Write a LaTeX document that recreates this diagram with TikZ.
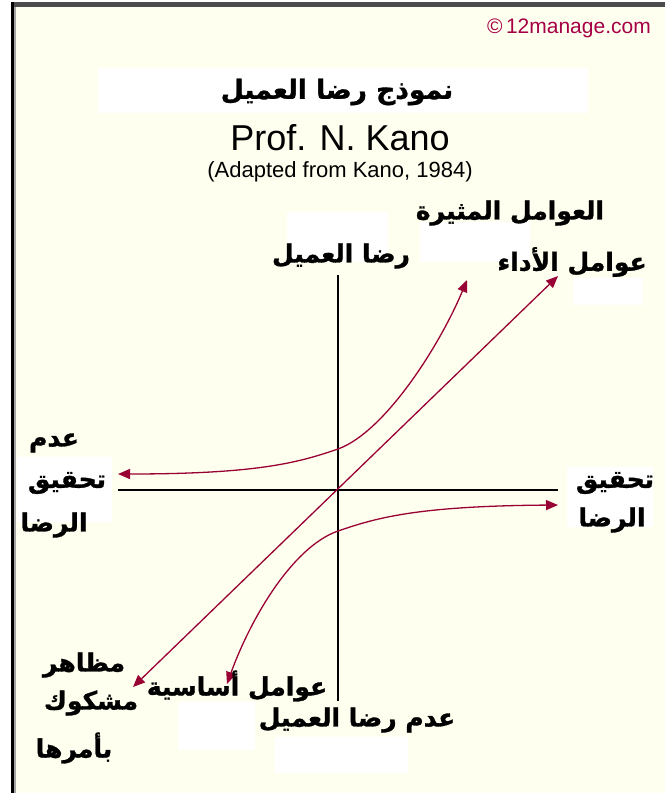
\documentclass[tikz,border=0pt]{standalone}
\usepackage{fontspec}
\setmainfont{Liberation Sans}
\newfontfamily\arabicfont[Script=Arabic, BoldFeatures={FakeBold=1.2}]{DejaVu Sans}
\TeXXeTstate=1
\usetikzlibrary{arrows.meta}
\definecolor{kanored}{RGB}{153,0,51}
\definecolor{copyred}{RGB}{165,0,70}
\definecolor{paper}{RGB}{255,255,240}
\newcommand{\artext}[1]{\beginR #1\endR}

\begin{document}
\begin{tikzpicture}[
    x=1pt, y=-1pt,
    arlabel/.style={inner sep=0pt, font=\arabicfont\bfseries\fontsize{25}{28}\selectfont},
    latlabel/.style={inner sep=0pt, font=\fontsize{21}{24}\selectfont},
    whitebox/.style={fill=white, draw=none},
    axis/.style={line width=1.3pt, color=black},
    curve/.style={{Triangle[length=12pt,width=10pt]}-{Triangle[length=12pt,width=10pt]}, line width=1.3pt, color=kanored}
]
    \useasboundingbox (0,0) rectangle (665,793);
    % page and frame
    \fill[paper] (11,2) rectangle (665,793);
    \fill[black!70] (11,2) rectangle (665,7);
    \fill[black] (11,2) rectangle (14,793);
    \fill[black!35] (14,7) rectangle (16,793);

    % white patches behind the labels
    \fill[whitebox] (98,68) rectangle (588,113);
    \fill[whitebox] (287,212) rectangle (388,262);
    \fill[whitebox] (420,222) rectangle (530,262);
    \fill[whitebox] (573,278) rectangle (643,305);
    \fill[whitebox] (17,457) rectangle (112,522);
    \fill[whitebox] (567,467) rectangle (653,527);
    \fill[whitebox] (178,702) rectangle (255,750);
    \fill[whitebox] (275,737) rectangle (408,773);

    % axes
    \coordinate (O) at (338,490);
    \coordinate (yT) at (338,275);
    \coordinate (yB) at (338,701);
    \coordinate (xL) at (118,490);
    \coordinate (xR) at (558,490);
    \draw[axis] (yT) -- (yB);
    \draw[axis] (xL) -- (xR);

    % curve end points
    \coordinate (perfU) at (558,276);
    \coordinate (perfL) at (133,687);
    \coordinate (excL) at (118,474);
    \coordinate (excM) at (338,449);
    \coordinate (excU) at (467,280);
    \coordinate (basR) at (558,505);
    \coordinate (basM) at (338,531);
    \coordinate (basL) at (227,684);

    \draw[curve] (perfL) -- (perfU);
    \draw[curve] (excL) .. controls (260,474) and (300,462) .. (excM)
        .. controls (385,432) and (440,345) .. (excU);
    \draw[curve] (basR) .. controls (416,506) and (376,518) .. (basM)
        .. controls (292,547) and (250,620) .. (basL);

    % titles
    \node (copy) [latlabel, text=copyred, anchor=east] at (651,28) {\textcopyright\,12manage.com};
    \node (title) [arlabel, font=\arabicfont\bfseries\fontsize{26.5}{30}\selectfont] at (337,92) {\artext{نموذج رضا العميل}};
    \node (prof) [inner sep=0pt, font=\fontsize{36}{40}\selectfont] at (340,138) {Prof. N. Kano};
    \node (adapt) [latlabel, font=\fontsize{22}{24}\selectfont] at (340,172) {(Adapted from Kano, 1984)};

    % axis labels
    \node (sat) [arlabel] at (341,256) {\artext{رضا العميل}};
    \node (dissat) [arlabel] at (357,720) {\artext{عدم رضا العميل}};
    \node (noful1) [arlabel] at (54,443) {\artext{عدم}};
    \node (noful2) [arlabel] at (67,483) {\artext{تحقيق}};
    \node (noful3) [arlabel] at (54,525) {\artext{الرضا}};
    \node (ful1) [arlabel] at (615,483) {\artext{تحقيق}};
    \node (ful2) [arlabel] at (612,520) {\artext{الرضا}};

    % curve labels
    \node (exciting) [arlabel] at (510,213) {\artext{العوامل المثيرة}};
    \node (perf) [arlabel] at (572,262) {\artext{عوامل الأداء}};
    \node (basic) [arlabel] at (237,686) {\artext{عوامل أساسية}};
    \node (doubt1) [arlabel] at (84,665) {\artext{مظاهر}};
    \node (doubt2) [arlabel] at (91,703) {\artext{مشكوك}};
    \node (doubt3) [arlabel] at (74,748) {\artext{بأمرها}};
\end{tikzpicture}
\end{document}
